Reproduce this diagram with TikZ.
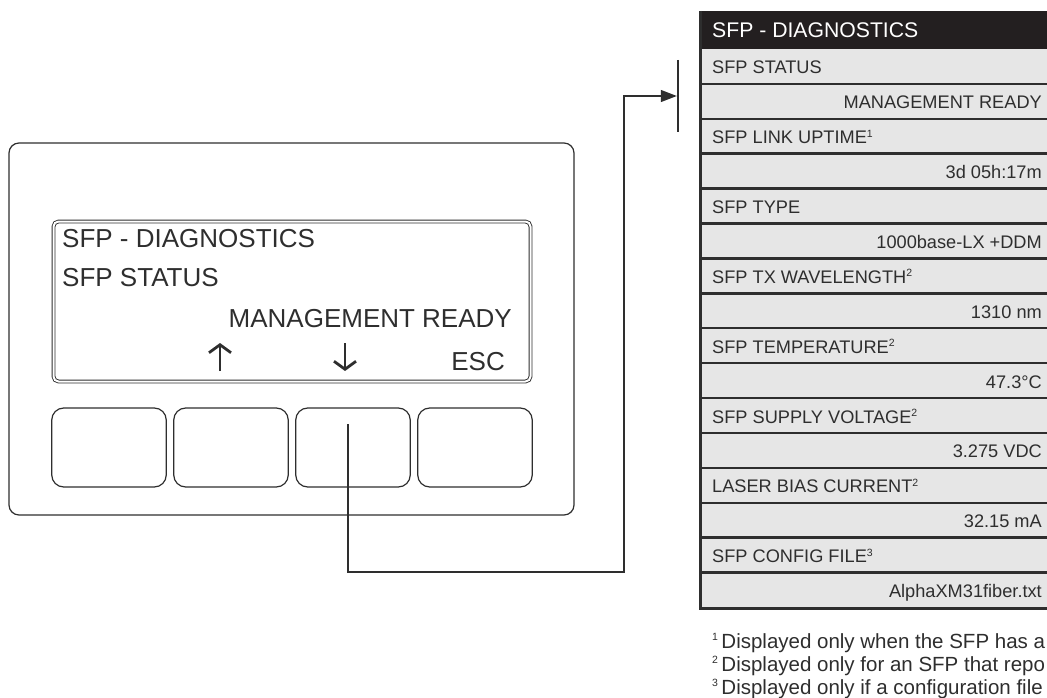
\documentclass[tikz,border=0pt]{standalone}
\usepackage{fontspec}
\setmainfont{Liberation Sans}
\usetikzlibrary{arrows.meta, positioning, calc}
\definecolor{panelline}{HTML}{2E2E2E}
\definecolor{rowgray}{HTML}{E6E6E6}
\definecolor{headblack}{HTML}{231F20}

\newcommand{\fnmark}[1]{\raisebox{0.36em}{\fontsize{10.5}{10}\selectfont #1}}

\tikzset{
  housing/.style={draw=panelline, line width=1.2pt, rounded corners=10pt},
  lcdframe/.style={draw=panelline, line width=0.9pt, double distance=2pt, rounded corners=5pt},
  keybox/.style={draw=panelline, line width=1.2pt, rounded corners=12pt,
    minimum width=114.5pt, minimum height=79pt, inner sep=0pt, outer sep=0pt},
  lcdtext/.style={font=\fontsize{26}{26}\selectfont, inner sep=0pt, text=panelline},
  lcdarrow/.style={draw=panelline, line width=2.8pt, -{Straight Barb[length=8pt, width=22pt]}},
  rowlabel/.style={anchor=base west, font=\fontsize{18.2}{18}\selectfont, inner sep=0pt, text=panelline},
  rowvalue/.style={anchor=base east, font=\fontsize{18.2}{18}\selectfont, inner sep=0pt, text=panelline},
  rowline/.style={draw=panelline, line width=2.4pt},
  footnote/.style={anchor=base west, font=\fontsize{20.5}{21}\selectfont, inner sep=0pt, text=panelline},
  link/.style={draw=panelline, line width=1.2pt, -{Triangle[length=16pt, width=12pt]}}
}

\begin{document}
\begin{tikzpicture}[x=1pt, y=-1pt]
    \useasboundingbox (0,0) rectangle (1047,698);
    \clip (0,0) rectangle (1047,698);

    % Device housing and display window
    \draw[housing] (9,143) rectangle (574,515);
    \draw[lcdframe] (53.5,221.5) rectangle (530.5,381.5);

    % Display text
    \node[lcdtext, anchor=base west] (lcdtitle) at (62,247) {SFP - DIAGNOSTICS};
    \node[lcdtext, anchor=base west] (lcdmenu) at (62,286) {SFP STATUS};
    \node[lcdtext, anchor=base east] (lcdvalue) at (512,327) {MANAGEMENT READY};
    \node[lcdtext, anchor=base east] (lcdesc) at (505,370) {ESC};

    % Up / down soft-key arrows
    \coordinate (upfoot) at (220,371);
    \coordinate (uptip) at (220,343);
    \coordinate (downfoot) at (345,343);
    \coordinate (downtip) at (345,371);
    \draw[lcdarrow] (upfoot) -- (uptip);
    \draw[lcdarrow] (downfoot) -- (downtip);

    % Keys
    \node[keybox] (key1) at (109,447.5) {};
    \node[keybox, right=7.5pt of key1] (key2) {};
    \node[keybox, right=7.5pt of key2] (key3) {};
    \node[keybox, right=7.5pt of key3] (key4) {};

    % Menu table
    \fill[headblack] (700,11) rectangle (1060,49);
    \fill[rowgray] (700,49) rectangle (1060,608);
    \foreach \k in {1,...,15}
        \draw[rowline] (700,{49+34.9*\k}) -- (1060,{49+34.9*\k});
    \draw[panelline, line width=3pt] (700,11) -- (700,608) -- (1060,608);
    \node[anchor=base west, inner sep=0pt, text=white, font=\fontsize{21.2}{21}\selectfont] (tabtitle) at (712,38) {SFP - DIAGNOSTICS};

    \foreach \lab/\val [count=\i from 0] in {
        SFP STATUS/MANAGEMENT READY,
        SFP LINK UPTIME\fnmark{1}/3d 05h:17m,
        SFP TYPE/1000base-LX +DDM,
        SFP TX WAVELENGTH\fnmark{2}/1310 nm,
        SFP TEMPERATURE\fnmark{2}/47.3°C,
        SFP SUPPLY VOLTAGE\fnmark{2}/3.275 VDC,
        LASER BIAS CURRENT\fnmark{2}/32.15 mA,
        SFP CONFIG FILE\fnmark{3}/AlphaXM31fiber.txt} {
        \node[rowlabel] (lab\i) at (712,{49+69.8*\i+25}) {\lab};
        \node[rowvalue] (val\i) at (1042,{49+69.8*\i+34.9+25}) {\val};
    }

    % Footnotes
    \node[footnote] (note1) at (712,648) {\fnmark{1}\,Displayed only when the SFP has a};
    \node[footnote] (note2) at (712,671) {\fnmark{2}\,Displayed only for an SFP that repo};
    \node[footnote] (note3) at (712,694) {\fnmark{3}\,Displayed only if a configuration file};

    % Key press leads into the table
    \coordinate (bartop) at (678,60);
    \coordinate (barbot) at (678,132);
    \draw[panelline, line width=2.5pt] (bartop) -- (barbot);
    \coordinate (press) at (348,424);
    \coordinate (bend) at (624,572);
    \draw[link, shorten >=1.2pt] (press) |- (bend) |- ($(bartop)!0.5!(barbot)$);
\end{tikzpicture}
\end{document}
